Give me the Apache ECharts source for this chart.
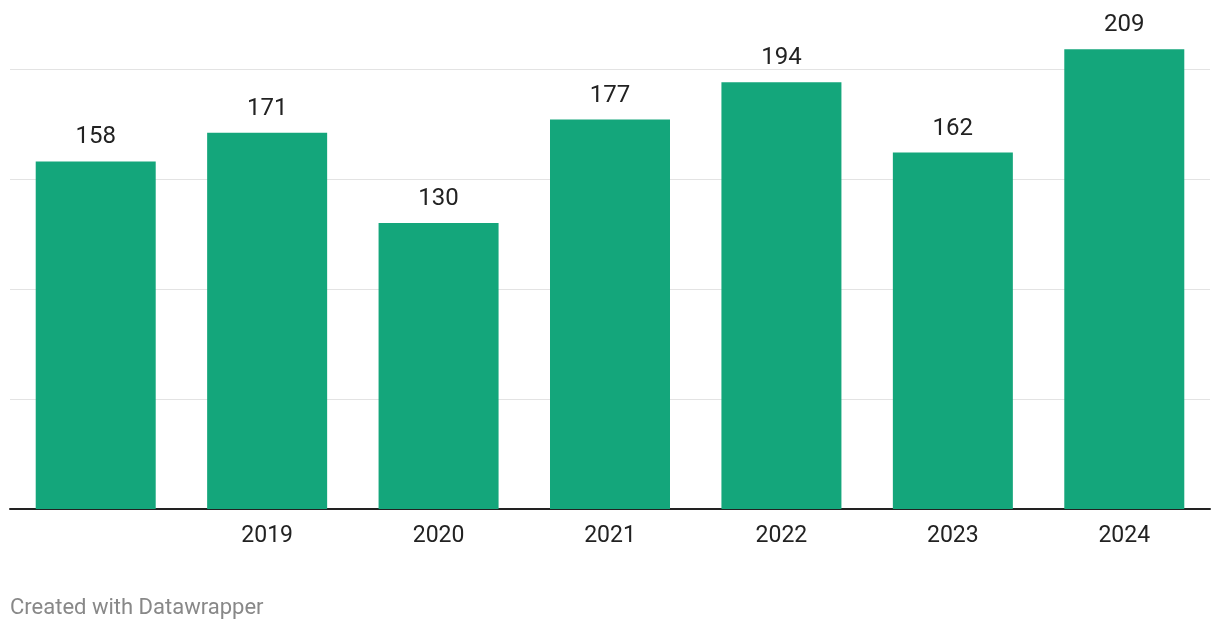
<!DOCTYPE html>
<html><head><meta charset="utf-8">
<script src="https://cdn.jsdelivr.net/npm/echarts@6/dist/echarts.min.js"></script>
<style>html,body{margin:0;padding:0;background:#fff}#c{width:1220px;height:630px}</style>
</head><body><div id="c"></div>
<script>
const categories = ["", "2019", "2020", "2021", "2022", "2023", "2024"];
const values = [158, 171, 130, 177, 194, 162, 209];
const footer = "Created with Datawrapper";

const chart = echarts.init(document.getElementById('c'));
chart.setOption({
  animation: false,
  backgroundColor: '#fff',
  grid: {left: 10, right: 10, top: 25, bottom: 121, containLabel: false},
  graphic: [{type: 'text', left: 10, top: 597, style: {text: footer, fill: '#888', fontSize: 22, fontFamily: 'Roboto'}}],
  xAxis: {
    type: 'category', data: categories,
    axisLine: {show: true, lineStyle: {color: '#222', width: 2}},
    axisTick: {show: false},
    axisLabel: {color: '#222', fontSize: 23, fontFamily: 'Roboto', margin: 16}
  },
  yAxis: {
    type: 'value', min: 0, max: 220, interval: 50,
    axisLabel: {show: false}, axisLine: {show: false}, axisTick: {show: false},
    splitLine: {show: true, showMaxLine: false, lineStyle: {color: '#e3e3e3', width: 1}}
  },
  series: [{
    type: 'bar', data: values, barCategoryGap: '30%',
    itemStyle: {color: '#14a67b'},
    label: {show: true, position: 'top', distance: 12, color: '#222', fontSize: 24, fontFamily: 'Roboto'}
  }]
});
</script></body></html>
